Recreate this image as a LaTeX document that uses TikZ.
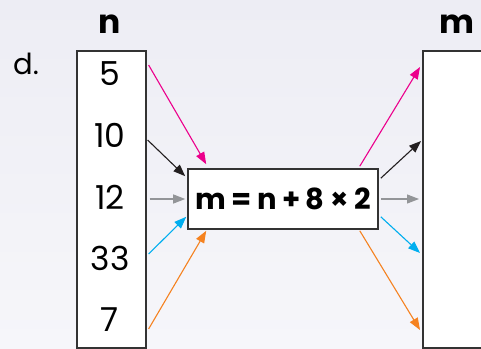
\documentclass[tikz,border=0pt]{standalone}
\usepackage{fontspec}
\setmainfont{Poppins}
\usetikzlibrary{arrows.meta,positioning,calc}

\definecolor{bgtop}{HTML}{EDEDF4}
\definecolor{bgbottom}{HTML}{F6F6FA}
\definecolor{flowpink}{HTML}{EC008C}
\definecolor{flowblack}{HTML}{231F20}
\definecolor{flowgray}{HTML}{939598}
\definecolor{flowcyan}{HTML}{00AEEF}
\definecolor{floworange}{HTML}{F58220}
\newcommand\tightspaces{\spaceskip=5.5pt\relax}

\begin{document}
\begin{tikzpicture}[
    x=1pt, y=-1pt,
    numfont/.style={font=\fontsize{33}{38}\selectfont},
    headfont/.style={font=\fontsize{33}{38}\selectfont\bfseries},
    column/.style={draw=black!80, line width=1.6pt, fill=white, minimum width=69pt, minimum height=297pt, inner sep=0pt},
    rulebox/.style={draw=black!80, line width=1.6pt, fill=white, minimum width=190pt, minimum height=60pt, inner sep=0pt,
      font=\fontsize{29}{34}\selectfont\bfseries\tightspaces},
    arr/.style={-{Triangle[length=12pt,width=9pt]}, line width=1.1pt}
  ]
  \useasboundingbox (0,0) rectangle (481,348);
  \shade[top color=bgtop, bottom color=bgbottom] (0,0) rectangle (481,348);
  \clip (0,0) rectangle (481,348);

  % input and output columns
  \node[column, anchor=north west] (ncol) at (76,50) {};
  \node[column, anchor=north west] (mcol) at (422,50) {};
  \node[headfont] (nlab) at (110,24) {n};
  \node[headfont] (mlab) at (457,24) {m};
  \node[font=\fontsize{29}{34}\selectfont] (part) at (26,64) {d.};
  \foreach \val/\ypos [count=\i] in {5/74,10/135,12/197,33/258,7/320}
    \node[numfont] (n\i) at (110,\ypos) {\val};

  % the rule
  \node[rulebox] (rule) at (283,199) {m = n + 8 × 2};

  % into the rule
  \draw[arr, flowpink] ($(ncol.north east)+(2,15)$) -- ($(rule.north west)+(19,-4)$);
  \draw[arr, flowblack] ($(ncol.north east)+(1,90)$) -- ($(rule.north west)+(-2,8)$);
  \draw[arr, flowgray] ($(ncol.north east)+(3,149)$) -- ($(rule.west)+(-2,0)$);
  \draw[arr, flowcyan] ($(ncol.north east)+(2,204)$) -- ($(rule.south west)+(-1,-13)$);
  \draw[arr, floworange] ($(ncol.north east)+(2,279)$) -- ($(rule.south west)+(19,1)$);

  % out of the rule
  \draw[arr, flowpink] ($(rule.north east)+(-19,-2)$) -- ($(mcol.north west)+(-2,17)$);
  \draw[arr, flowblack] ($(rule.north east)+(2,10)$) -- ($(mcol.north west)+(-1,91)$);
  \draw[arr, flowgray] ($(rule.east)+(2,0)$) -- ($(mcol.north west)+(-3,149)$);
  \draw[arr, flowcyan] ($(rule.south east)+(2,-13)$) -- ($(mcol.north west)+(-2,203)$);
  \draw[arr, floworange] ($(rule.south east)+(-19,1)$) -- ($(mcol.north west)+(-2,280)$);
\end{tikzpicture}
\end{document}
